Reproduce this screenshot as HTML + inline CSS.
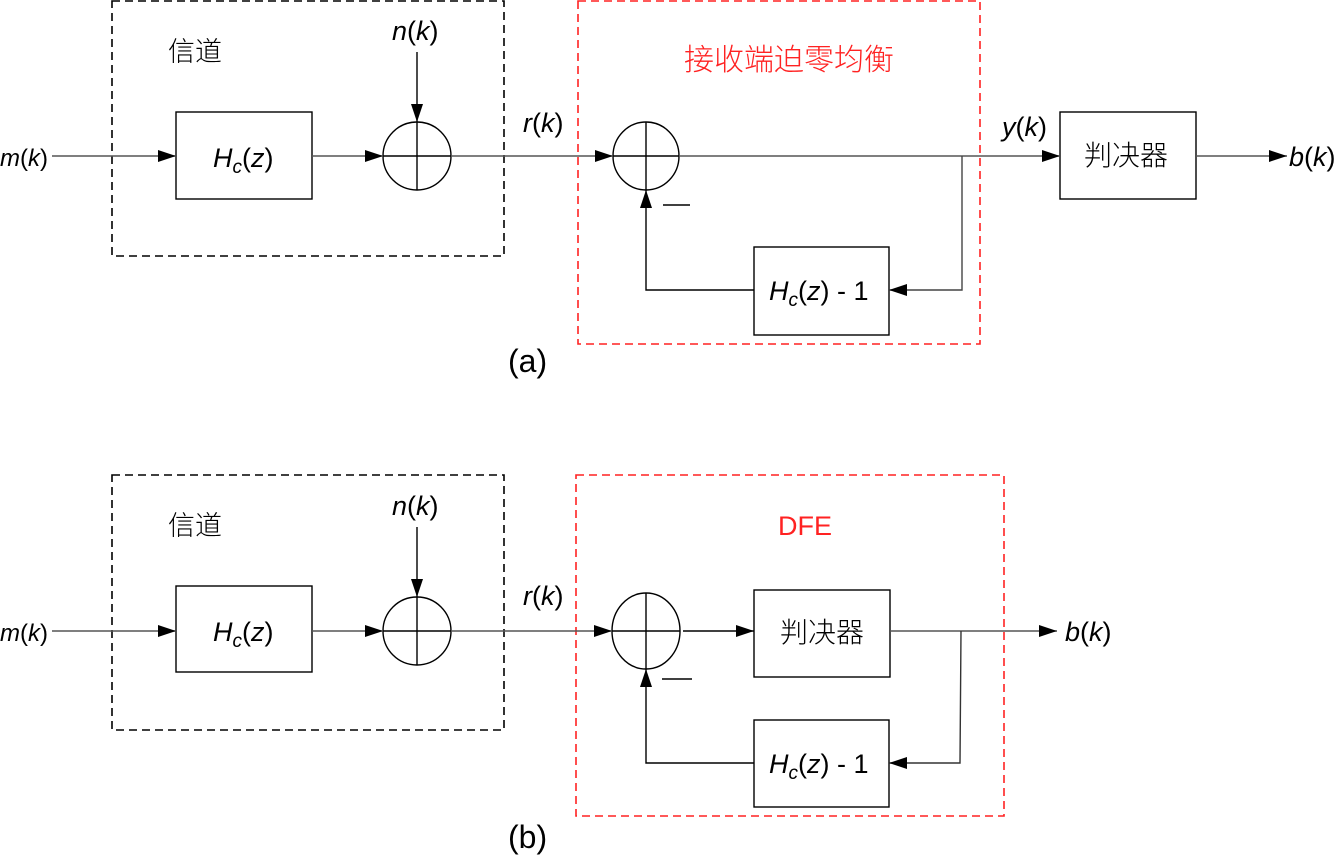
<!DOCTYPE html>
<html><head><meta charset="utf-8"><style>
html,body{margin:0;padding:0;background:#fff;width:1337px;height:858px;overflow:hidden}
text{font-family:"Liberation Sans","Noto Sans CJK SC",sans-serif;fill:#000}
.cj{font-family:"Noto Sans CJK SC",sans-serif;font-weight:300}
</style></head><body>
<svg width="1337" height="858" viewBox="0 0 1337 858" xmlns="http://www.w3.org/2000/svg">
<defs>
<marker id="ar" markerWidth="18" markerHeight="12" refX="18" refY="6" orient="auto" markerUnits="userSpaceOnUse"><path d="M0,0 L18,6 L0,12 z" fill="#000"/></marker>
</defs>
<g fill="none" stroke="#000" stroke-width="1.4">
<!-- (a) -->
<rect x="112" y="1" width="392" height="255" stroke-dasharray="8,5" stroke-width="1.6"/>
<rect x="578" y="1" width="402" height="343" stroke="#f22" stroke-dasharray="8,5" stroke-width="1.6"/>
<rect x="176" y="112" width="136" height="87"/>
<ellipse cx="417" cy="156" rx="34" ry="34"/>
<line x1="417" y1="122" x2="417" y2="190"/><line x1="383" y1="156" x2="451" y2="156"/>
<ellipse cx="646" cy="156" rx="33" ry="34"/>
<line x1="646" y1="122" x2="646" y2="190"/><line x1="613" y1="156" x2="679" y2="156"/>
<rect x="754" y="247" width="135" height="88"/>
<rect x="1060" y="112" width="136" height="87"/>
<line x1="52" y1="156" x2="176" y2="156" stroke="#555" marker-end="url(#ar)"/>
<line x1="312" y1="156" x2="383" y2="156" stroke="#555" marker-end="url(#ar)"/>
<line x1="417" y1="52" x2="417" y2="122" marker-end="url(#ar)"/>
<line x1="451" y1="156" x2="613" y2="156" stroke="#555" marker-end="url(#ar)"/>
<line x1="679" y1="156" x2="1060" y2="156" stroke="#555" marker-end="url(#ar)"/>
<polyline points="962,156 962,290 889,290" stroke="#444" marker-end="url(#ar)"/>
<polyline points="754,290 646,290 646,190" marker-end="url(#ar)"/>
<line x1="663" y1="205" x2="690" y2="205"/>
<line x1="1196" y1="156" x2="1287" y2="156" stroke="#555" marker-end="url(#ar)"/>
<!-- (b) -->
<rect x="112" y="475" width="392" height="255" stroke-dasharray="8,5" stroke-width="1.6"/>
<rect x="576" y="475" width="428" height="341" stroke="#f22" stroke-dasharray="8,5" stroke-width="1.6"/>
<rect x="176" y="586" width="136" height="86"/>
<ellipse cx="417" cy="631" rx="34" ry="34"/>
<line x1="417" y1="597" x2="417" y2="665"/><line x1="383" y1="631" x2="451" y2="631"/>
<ellipse cx="646" cy="631" rx="34" ry="38"/>
<line x1="646" y1="593" x2="646" y2="669"/><line x1="612" y1="631" x2="680" y2="631"/>
<rect x="754" y="590" width="136" height="87"/>
<rect x="754" y="720" width="135" height="87"/>
<line x1="52" y1="631" x2="176" y2="631" stroke="#555" marker-end="url(#ar)"/>
<line x1="312" y1="631" x2="383" y2="631" stroke="#555" marker-end="url(#ar)"/>
<line x1="417" y1="527" x2="417" y2="597" marker-end="url(#ar)"/>
<line x1="451" y1="631" x2="612" y2="631" stroke="#555" marker-end="url(#ar)"/>
<line x1="683" y1="631" x2="754" y2="631" marker-end="url(#ar)"/>
<line x1="890" y1="631" x2="1057" y2="631" stroke="#555" marker-end="url(#ar)"/>
<polyline points="961,631 960,763 889,763" stroke="#333" marker-end="url(#ar)"/>
<polyline points="754,763 646,763 646,669" marker-end="url(#ar)"/>
<line x1="662" y1="679" x2="692" y2="679"/>
</g>
<g font-size="27">
<text x="0" y="166" font-size="24"><tspan font-style="italic">m</tspan>(<tspan font-style="italic">k</tspan>)</text>
<text x="168" y="61" font-size="27" class="cj">信道</text>
<text x="392" y="40"><tspan font-style="italic">n</tspan>(<tspan font-style="italic">k</tspan>)</text>
<text x="213" y="167"><tspan font-style="italic">H</tspan><tspan font-style="italic" font-size="19" dy="6">c</tspan><tspan dy="-6">(</tspan><tspan font-style="italic">z</tspan>)</text>
<text x="523" y="132"><tspan font-style="italic">r</tspan>(<tspan font-style="italic">k</tspan>)</text>
<text x="684" y="70" font-size="30" class="cj" style="fill:#f22">接收端迫零均衡</text>
<text x="1002" y="136"><tspan font-style="italic">y</tspan>(<tspan font-style="italic">k</tspan>)</text>
<text x="1084" y="165" font-size="28" class="cj">判决器</text>
<text x="1289" y="166"><tspan font-style="italic">b</tspan>(<tspan font-style="italic">k</tspan>)</text>
<text x="769" y="300"><tspan font-style="italic">H</tspan><tspan font-style="italic" font-size="19" dy="6">c</tspan><tspan dy="-6">(</tspan><tspan font-style="italic">z</tspan>) - 1</text>
<text x="508" y="372" font-size="32">(a)</text>

<text x="0" y="641" font-size="24"><tspan font-style="italic">m</tspan>(<tspan font-style="italic">k</tspan>)</text>
<text x="168" y="535" font-size="27" class="cj">信道</text>
<text x="392" y="515"><tspan font-style="italic">n</tspan>(<tspan font-style="italic">k</tspan>)</text>
<text x="213" y="641"><tspan font-style="italic">H</tspan><tspan font-style="italic" font-size="19" dy="6">c</tspan><tspan dy="-6">(</tspan><tspan font-style="italic">z</tspan>)</text>
<text x="523" y="605"><tspan font-style="italic">r</tspan>(<tspan font-style="italic">k</tspan>)</text>
<text x="778" y="535" style="fill:#f22">DFE</text>
<text x="780" y="642" font-size="28" class="cj">判决器</text>
<text x="1065" y="641"><tspan font-style="italic">b</tspan>(<tspan font-style="italic">k</tspan>)</text>
<text x="769" y="773"><tspan font-style="italic">H</tspan><tspan font-style="italic" font-size="19" dy="6">c</tspan><tspan dy="-6">(</tspan><tspan font-style="italic">z</tspan>) - 1</text>
<text x="508" y="848" font-size="32">(b)</text>
</g>
</svg>
</body></html>
